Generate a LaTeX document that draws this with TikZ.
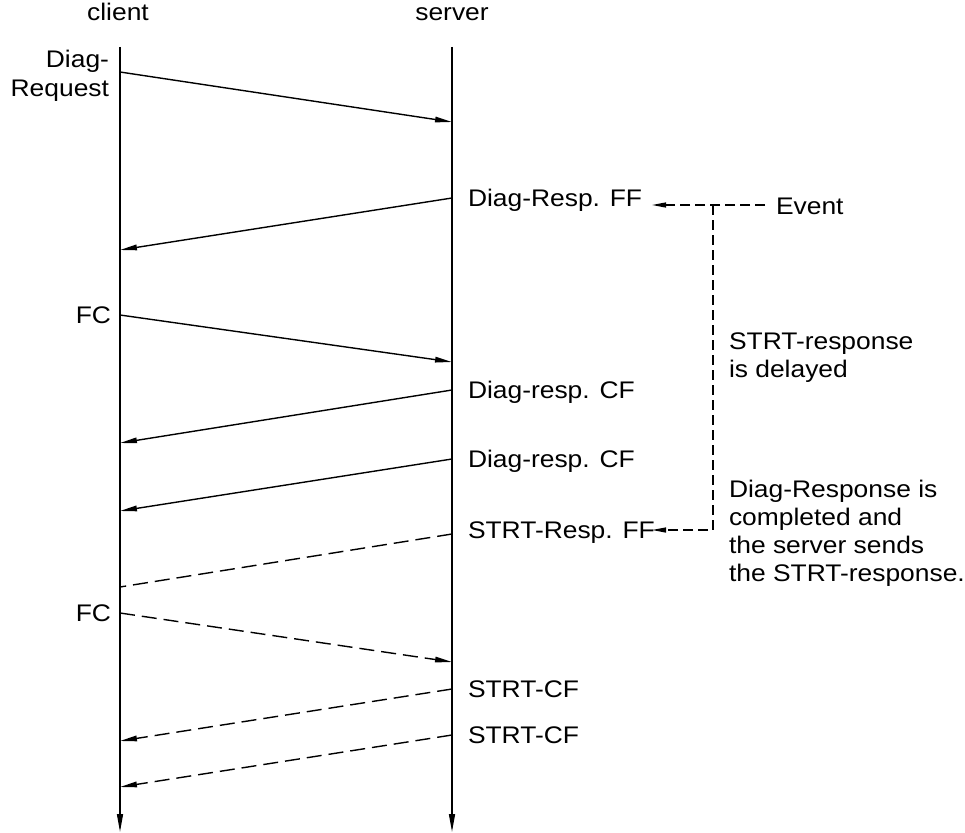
\documentclass[tikz,border=0pt]{standalone}
\usepackage{fontspec}
\setmainfont{Liberation Sans}[FakeStretch=1.1]
\usetikzlibrary{arrows.meta}
\begin{document}
\begin{tikzpicture}[x=1pt,y=-1pt,
  font=\fontsize{24}{28}\selectfont,
  lbl/.style={inner sep=0pt, outer sep=0pt},
  life/.style={line width=1.5pt, -{Triangle[length=18pt,width=6pt]}},
  msg/.style={line width=1.4pt, -{Triangle[length=17pt,width=5.5pt]}},
  msgnoarrow/.style={line width=1.4pt},
  msgdash/.style={dash pattern=on 15pt off 7pt},
  evline/.style={line width=1.3pt, dash pattern=on 10pt off 5pt},
  evarrow/.style={-{Triangle[length=14pt,width=5pt]}}
]
\useasboundingbox (0,0) rectangle (965,832);

% lifelines
\node[lbl, anchor=base] (client) at (118,21) {client};
\node[lbl, anchor=base] (server) at (452,21) {server};
\coordinate (ctop) at (120,47);
\coordinate (cbot) at (120,832);
\coordinate (stop) at (452,47);
\coordinate (sbot) at (452,832);
\draw[life] (ctop) -- (cbot);
\draw[life] (stop) -- (sbot);

% message endpoints
\coordinate (c1) at (120,72);  \coordinate (s1) at (452,122);
\coordinate (s2) at (452,198); \coordinate (c2) at (120,250);
\coordinate (c3) at (120,315); \coordinate (s3) at (452,362);
\coordinate (s4) at (452,390); \coordinate (c4) at (120,443);
\coordinate (s5) at (452,459); \coordinate (c5) at (120,511);
\coordinate (s6) at (452,534); \coordinate (c6) at (120,587);
\coordinate (c7) at (120,613); \coordinate (s7) at (452,662);
\coordinate (s8) at (452,689); \coordinate (c8) at (120,741);
\coordinate (s9) at (452,735); \coordinate (c9) at (120,787);

\draw[msg] (c1) -- (s1);
\draw[msg] (s2) -- (c2);
\draw[msg] (c3) -- (s3);
\draw[msg] (s4) -- (c4);
\draw[msg] (s5) -- (c5);
\draw[msgnoarrow, msgdash] (s6) -- (c6);
\draw[msg, msgdash] (c7) -- (s7);
\draw[msg, msgdash] (s8) -- (c8);
\draw[msg, msgdash] (s9) -- (c9);

% client labels
\node[lbl, anchor=base east] (req1) at (109,68) {Diag-};
\node[lbl, anchor=base east] (req2) at (109,96) {Request};
\node[lbl, anchor=base east] (fc1) at (111,323) {FC};
\node[lbl, anchor=base east] (fc2) at (111,621) {FC};

% server labels
\node[lbl, anchor=base west] (ff) at (468,206) {Diag-Resp. FF};
\node[lbl, anchor=base west] (cf1) at (468,398) {Diag-resp. CF};
\node[lbl, anchor=base west] (cf2) at (468,467) {Diag-resp. CF};
\node[lbl, anchor=base west] (sff) at (468,538) {STRT-Resp. FF};
\node[lbl, anchor=base west] (scf1) at (468,697) {STRT-CF};
\node[lbl, anchor=base west] (scf2) at (468,743) {STRT-CF};

% event
\node[lbl, anchor=base west] (event) at (776,214) {Event};
\coordinate (evs) at (765,205);
\coordinate (eva) at (652,205);
\coordinate (tj) at (713,205);
\coordinate (tb) at (713,530);
\coordinate (evb) at (652,530);
\draw[evline, evarrow] (evs) -- (eva);
\draw[evline, evarrow] (tj) -- (tb) -- (evb);

% notes
\node[lbl, anchor=base west] (n1) at (729,349) {STRT-response};
\node[lbl, anchor=base west] (n2) at (729,377) {is delayed};
\node[lbl, anchor=base west] (m1) at (729,497) {Diag-Response is};
\node[lbl, anchor=base west] (m2) at (729,525) {completed and};
\node[lbl, anchor=base west] (m3) at (729,553) {the server sends};
\node[lbl, anchor=base west] (m4) at (729,581) {the STRT-response.};
\end{tikzpicture}
\end{document}
